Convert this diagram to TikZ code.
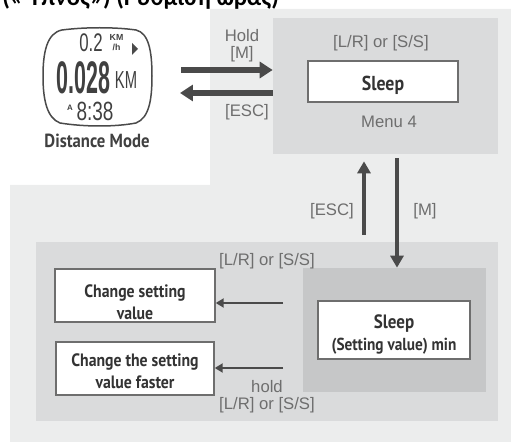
\documentclass[tikz,border=0pt]{standalone}
\usepackage{fontspec}
\setmainfont{Liberation Sans}
\newfontfamily\titlefont{Carlito}
\newfontfamily\boxfont[FakeStretch=0.88]{PT Sans}
\usetikzlibrary{arrows.meta}
\definecolor{pagegray}{HTML}{ECEDED}
\definecolor{panelgray}{HTML}{DADBDC}
\definecolor{innergray}{HTML}{C6C7C8}
\definecolor{inkgray}{HTML}{4A4A4A}
\definecolor{labelgray}{HTML}{6E6E6E}
\newcommand{\droptext}[1]{\rule{0pt}{#1}}
\tikzset{
  panel/.style={inner sep=0pt, fill=panelgray},
  whitebox/.style={draw=inkgray!80, line width=0.03cm, fill=white, inner sep=0pt, align=center,
    text=black!80, font=\boxfont\bfseries\fontsize{10.2}{12.4}\selectfont},
  keylabel/.style={text=labelgray, inner sep=0pt, align=center, font=\fontsize{9.5}{9.6}\selectfont},
  lcd/.style={inner sep=0pt, text=black!75},
  bigarrow/.style={draw=inkgray, line width=0.12cm, -{Triangle[length=0.26cm,width=0.32cm]}},
  midarrow/.style={draw=inkgray, line width=0.09cm, -{Triangle[length=0.24cm,width=0.26cm]}},
  smallarrow/.style={draw=inkgray, line width=0.05cm, -{Triangle[length=0.16cm,width=0.18cm]}}
}
\begin{document}
\begin{tikzpicture}[x=0.02cm, y=-0.02cm]
  \useasboundingbox (0,0) rectangle (511,442);
  \fill[pagegray] (210,9) -- (511,9) -- (511,442) -- (10,442) -- (10,185) -- (210,185) -- cycle;
  \node[anchor=base west, inner sep=0pt, font=\titlefont\bfseries\fontsize{13.9}{15}\selectfont] (title) at (2,6) {(« Ύπνος») (Ρύθμιση ώρας)};

  \draw[inkgray, line width=0.03cm] (62,30) .. controls (85,27) and (115,27) .. (136,30)
    .. controls (149,33) and (152,52) .. (152,76)
    .. controls (152,100) and (149,118) .. (136,123)
    .. controls (115,127) and (85,127) .. (60,123)
    .. controls (47,118) and (43,100) .. (43,76)
    .. controls (43,52) and (47,33) .. (62,30) -- cycle;
  \node[lcd, xscale=0.66, font=\fontsize{14.5}{14.5}\selectfont] (speed) at (91,42.5) {0.2};
  \node[lcd, font=\bfseries\fontsize{5}{5.4}\selectfont, align=center] (speedunit) at (116.5,42.5) {KM\\/h};
  \fill[inkgray] (132,43) -- (138,49) -- (132,55) -- cycle;
  \node[lcd, xscale=0.47, font=\bfseries\fontsize{26}{26}\selectfont] (distance) at (83.5,77.5) {0.028};
  \node[lcd, xscale=0.6, font=\fontsize{14}{14}\selectfont] (distunit) at (126,80) {KM};
  \node[lcd, font=\bfseries\fontsize{4.5}{4.5}\selectfont] (amark) at (70,107.5) {A};
  \node[lcd, xscale=0.72, font=\fontsize{15}{15}\selectfont] (clock) at (95,111.5) {8:38};
  \node[inner sep=0pt, text=black!75, font=\boxfont\bfseries\fontsize{10.8}{12}\selectfont] (modename) at (97,141) {Distance Mode};

  \node[panel, minimum width=4.5cm, minimum height=2.72cm] (menu) at (385.5,86) {};
  \node[whitebox, minimum width=3cm, minimum height=0.82cm, font=\boxfont\bfseries\fontsize{11.5}{12}\selectfont] (sleep) at (383,81.5) {\droptext{12pt}Sleep};
  \node[keylabel] (menukeys) at (381,43) {[L/R] or [S/S]};
  \node[keylabel] (menuname) at (389,122) {Menu 4};

  \node[panel, minimum width=9.24cm, minimum height=3.58cm] (setting) at (267,331.5) {};
  \node[panel, fill=innergray, minimum width=3.66cm, minimum height=2.48cm] (inner) at (394.5,330) {};
  \node[whitebox, minimum width=3.04cm, minimum height=1.16cm] (sleepvalue) at (394,330) {\droptext{13pt}{\fontsize{11}{12}\selectfont Sleep}\\{\fontsize{9.9}{12}\selectfont (Setting value) min}};
  \node[whitebox, minimum width=3.2cm, minimum height=1.06cm] (change) at (135,295.5) {\droptext{15pt}Change setting\\value};
  \node[whitebox, minimum width=3.16cm, minimum height=1.06cm] (faster) at (135,368.5) {\droptext{10.5pt}Change the setting\\value faster};

  \coordinate (watchright) at (181,70);
  \coordinate (watchleft) at (180,93);
  \coordinate (upstart) at (364,235);
  \coordinate (downx) at (397,200);
  \coordinate (changeright) at (283,303);
  \coordinate (fasterright) at (283,368);

  \draw[bigarrow] (watchright) -- (menu.west |- watchright);
  \draw[bigarrow] (menu.west |- watchleft) -- (watchleft);
  \draw[midarrow] (upstart) -- ([yshift=-0.14cm]menu.south -| upstart);
  \draw[midarrow, line width=0.08cm, shorten <=0.08cm] (menu.south -| downx) -- (inner.north -| downx);
  \draw[smallarrow] (changeright) -- (change.east |- changeright) ;
  \draw[smallarrow] (fasterright) -- (faster.east |- fasterright) ;

  \node[keylabel] (holdm) at (242,45.5) {Hold\\{}[M]};
  \node[keylabel] (escleft) at (247,112) {[ESC]};
  \node[keylabel] (escup) at (332,211) {[ESC]};
  \node[keylabel] (mdown) at (425,211) {[M]};
  \node[keylabel] (settingkeys) at (267,261) {[L/R] or [S/S]};
  \node[keylabel] (holdkeys) at (267,397) {hold\\{}[L/R] or [S/S]};
\end{tikzpicture}
\end{document}
